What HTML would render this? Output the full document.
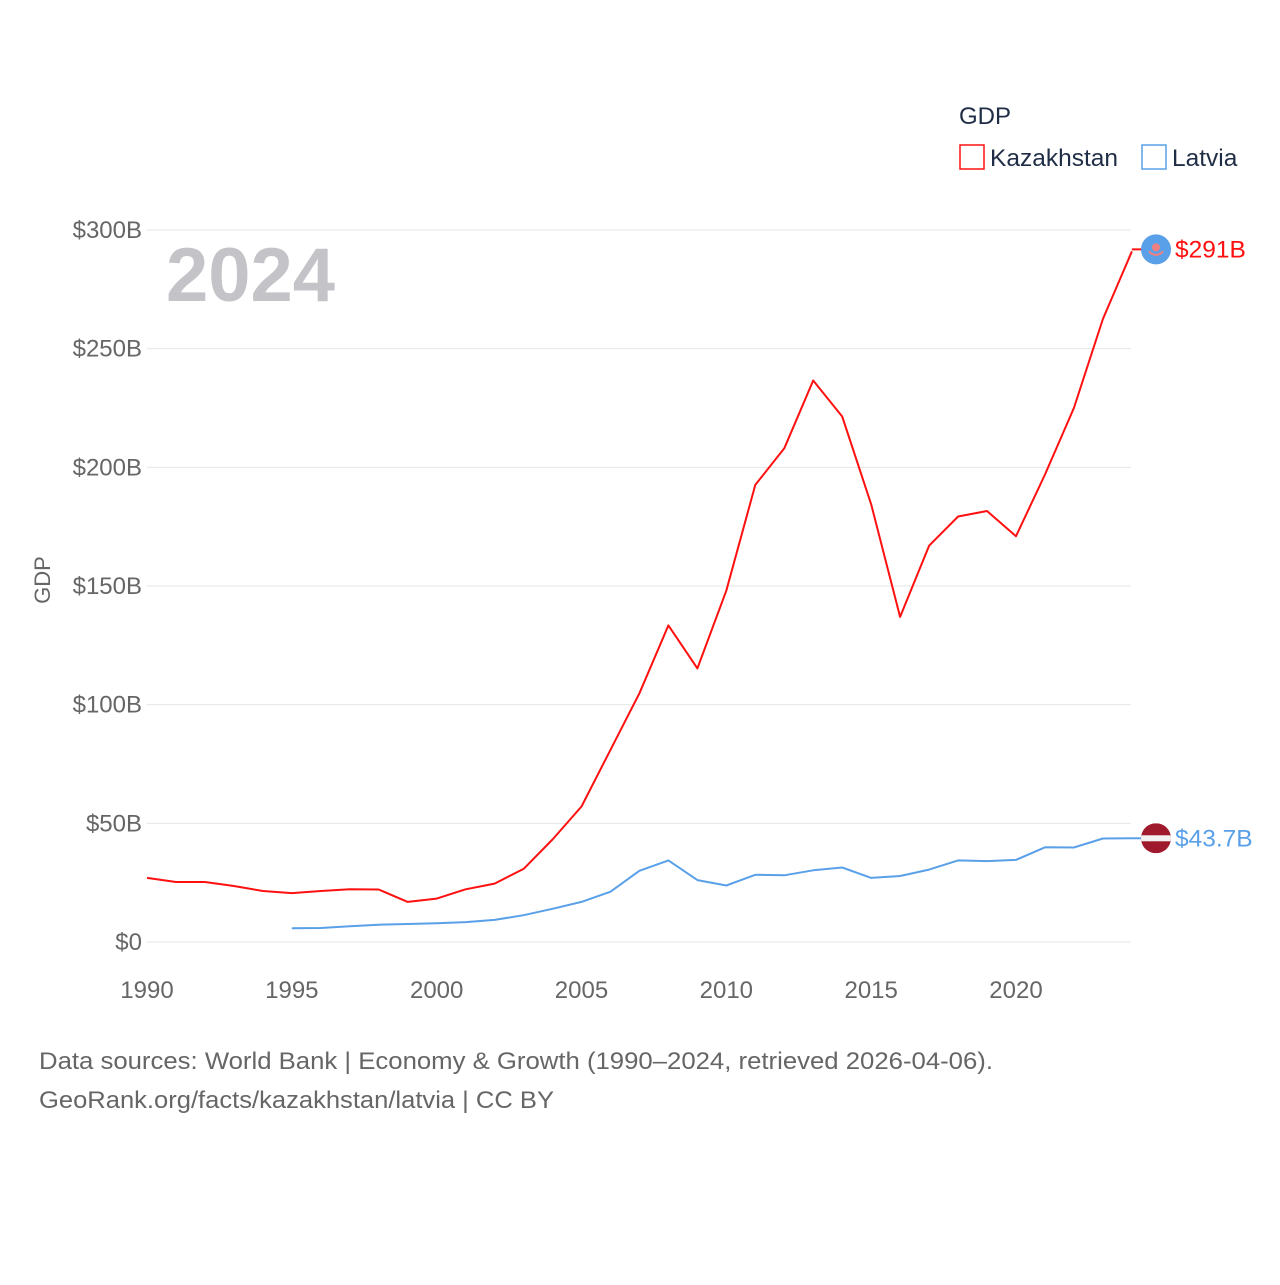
<!DOCTYPE html>
<html><head><meta charset="utf-8">
<style>
html,body{margin:0;padding:0;background:#fff;}
body{width:1280px;height:1280px;overflow:hidden;font-family:"Liberation Sans",sans-serif;}
</style></head>
<body>
<svg id="chart" width="1280" height="1280" xmlns="http://www.w3.org/2000/svg" font-family="Liberation Sans, sans-serif">
<text x="959" y="124" font-size="24" fill="#1f2d46">GDP</text>
<g>
<rect x="960" y="145" width="24" height="24" fill="none" stroke="#ff1010" stroke-width="1.5"/>
<text x="990" y="166" font-size="24.5" fill="#1f2d46">Kazakhstan</text></g>
<g>
<rect x="1142" y="145" width="24" height="24" fill="none" stroke="#5aa0e8" stroke-width="1.5"/>
<text x="1172" y="166" font-size="24.5" fill="#1f2d46">Latvia</text></g>
<g id="grid"></g>
<text x="166" y="301" font-size="76" font-weight="bold" fill="#c4c4c8">2024</text>
<text transform="translate(50,580) rotate(-90)" text-anchor="middle" font-size="22" fill="#666">GDP</text>
<g id="marks"></g>
<text x="39" y="1069" font-size="24" fill="#666" textLength="954" lengthAdjust="spacingAndGlyphs">Data sources: World Bank | Economy &amp; Growth (1990–2024, retrieved 2026-04-06).</text>
<text x="39" y="1108" font-size="24" fill="#666" textLength="515" lengthAdjust="spacingAndGlyphs">GeoRank.org/facts/kazakhstan/latvia | CC BY</text>
</svg>
<script>
const years=[1990,1991,1992,1993,1994,1995,1996,1997,1998,1999,2000,2001,2002,2003,2004,2005,2006,2007,2008,2009,2010,2011,2012,2013,2014,2015,2016,2017,2018,2019,2020,2021,2022,2023,2024];
const kazakhstan=[27.0,25.3,25.3,23.6,21.5,20.6,21.5,22.2,22.1,16.9,18.3,22.2,24.6,30.8,43.2,57.1,81,104.8,133.4,115.3,148,192.6,208,236.6,221.4,184.4,137,167,179.3,181.6,171,197,225,262.5,291];
const latvia=[null,null,null,null,null,5.8,5.9,6.6,7.3,7.6,7.9,8.4,9.3,11.3,14.0,16.9,21.2,30.0,34.4,26.1,23.8,28.3,28.1,30.2,31.4,27.0,27.8,30.5,34.4,34.1,34.6,39.9,39.8,43.6,43.7];
const yTicks=[0,50,100,150,200,250,300];
const yTickLabels=["$0","$50B","$100B","$150B","$200B","$250B","$300B"];
const xTicks=[1990,1995,2000,2005,2010,2015,2020];
const NS="http://www.w3.org/2000/svg";
const X=y=>147+(y-1990)*(1016-147)/30;
const Y=v=>942-v*(942-230)/300;
function mk(tag,attrs,parent){const e=document.createElementNS(NS,tag);for(const k in attrs)e.setAttribute(k,attrs[k]);parent.appendChild(e);return e;}
const grid=document.getElementById('grid'),marks=document.getElementById('marks');
yTicks.forEach((t,i)=>{
 const l=mk('line',{x1:147,x2:1131,y1:Y(t),y2:Y(t),stroke:'#e6e6e6','stroke-width':1},grid);
 
 
 const tx=mk('text',{x:142,y:Y(t)+8,'text-anchor':'end','font-size':24,fill:'#666'},grid);
 tx.textContent=yTickLabels[i];
 
 
});
xTicks.forEach(t=>{
 const tx=mk('text',{x:X(t),y:998,'text-anchor':'middle','font-size':24,fill:'#666'},grid);
 tx.textContent=t;
 
 
});
function line(vals,color,name){
 let d='';vals.forEach((v,i)=>{if(v==null)return;d+=(d?'L':'M')+X(years[i]).toFixed(1)+','+Y(v).toFixed(1);});
 const p=mk('path',{d:d,fill:'none',stroke:color,'stroke-width':2,'stroke-linejoin':'round'},marks);
 
 
}
line(kazakhstan,'#ff1010','line-kazakhstan');
line(latvia,'#5aa0e8','line-latvia');
const kv=kazakhstan[kazakhstan.length-1],lv=latvia[latvia.length-1];
const ky=Y(kv)-2,ly=Y(lv);
mk('line',{x1:X(2024),x2:1142,y1:ky,y2:ky,stroke:'#ff1010','stroke-width':2},marks);
mk('line',{x1:X(2024),x2:1142,y1:ly,y2:ly,stroke:'#5aa0e8','stroke-width':2},marks);
const kf=mk('g',{},marks);


mk('circle',{cx:1156,cy:ky,r:15,fill:'#5aa0e8'},kf);
mk('circle',{cx:1156,cy:ky-2,r:4,fill:'#f08080'},kf);
mk('path',{d:`M1149,${ky+2} Q1156,${ky+9} 1163,${ky+2}`,fill:'none',stroke:'#f08080','stroke-width':2},kf);
const lf=mk('g',{},marks);


const cp=mk('clipPath',{id:'lvclip'},lf);mk('circle',{cx:1156,cy:ly,r:15},cp);
mk('rect',{x:1141,y:ly-15,width:30,height:30,fill:'#9e1a2c','clip-path':'url(#lvclip)'},lf);
mk('rect',{x:1141,y:ly-3,width:30,height:6,fill:'#f2f2f2','clip-path':'url(#lvclip)'},lf);
const kt=mk('text',{x:1175,y:ky+8,'font-size':24.5,fill:'#ff1010'},marks);
kt.textContent='$'+kv+'B';


const lt=mk('text',{x:1175,y:ly+8,'font-size':24.5,fill:'#5aa0e8'},marks);
lt.textContent='$'+lv+'B';


</script>
</body></html>
